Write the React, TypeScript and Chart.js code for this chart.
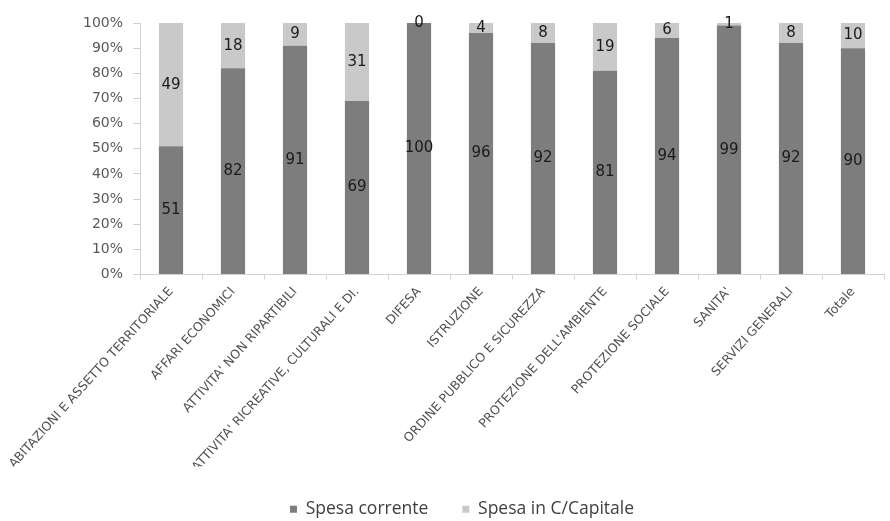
import React, { useEffect, useRef } from "react";
import { Chart, registerables } from "chart.js";

Chart.register(...registerables);

const categories = [
  "ABITAZIONI E ASSETTO TERRITORIALE",
  "AFFARI ECONOMICI",
  "ATTIVITA' NON RIPARTIBILI",
  "ATTIVITA' RICREATIVE, CULTURALI E DI.",
  "DIFESA",
  "ISTRUZIONE",
  "ORDINE PUBBLICO E SICUREZZA",
  "PROTEZIONE DELL'AMBIENTE",
  "PROTEZIONE SOCIALE",
  "SANITA'",
  "SERVIZI GENERALI",
  "Totale",
];
const spesaCorrente = [51, 82, 91, 69, 100, 96, 92, 81, 94, 99, 92, 90];
const spesaCapitale = [49, 18, 9, 31, 0, 4, 8, 19, 6, 1, 8, 10];
const seriesNames = ["Spesa corrente", "Spesa in C/Capitale"];

const valueLabels = {
  id: "valueLabels",
  afterDatasetsDraw(chart: any) {
    const ctx = chart.ctx;
    ctx.save();
    ctx.font = "15px 'DejaVu Sans'";
    ctx.fillStyle = "#1a1a1a";
    ctx.textAlign = "center";
    ctx.textBaseline = "middle";
    chart.data.datasets.forEach((ds: any, i: number) => {
      const meta = chart.getDatasetMeta(i);
      meta.data.forEach((el: any, j: number) => {
        const y = (el.y + el.base) / 2;
        ctx.fillText(String(ds.data[j]), el.x, y);
      });
    });
    ctx.restore();
  },
};

export default function App() {
  const ref = useRef<HTMLCanvasElement>(null);
  useEffect(() => {
    const chart = new Chart(ref.current!, {
      type: "bar",
      data: {
        labels: categories,
        datasets: [
          {
            label: seriesNames[0],
            data: spesaCorrente,
            backgroundColor: "#7d7d7d",
            barPercentage: 0.78,
            categoryPercentage: 0.5,
          },
          {
            label: seriesNames[1],
            data: spesaCapitale,
            backgroundColor: "#c9c9c9",
            barPercentage: 0.78,
            categoryPercentage: 0.5,
          },
        ],
      },
      options: {
        animation: false,
        responsive: true,
        maintainAspectRatio: false,
        layout: { padding: { top: 23, left: 40, right: 6, bottom: -7 } },
        plugins: {
          legend: {
            position: "bottom",
            labels: {
              boxWidth: 7,
              boxHeight: 7,
              padding: 34,
              color: "#404040",
              font: { family: "'Open Sans'", size: 17.5 },
            },
          },
          tooltip: { enabled: false },
        },
        scales: {
          x: {
            stacked: true,
            grid: {
              offset: true,
              drawOnChartArea: false,
              tickLength: 5,
              color: "#d0d0d0",
            },
            border: { color: "#d0d0d0" },
            ticks: {
              minRotation: 48,
              maxRotation: 48,
              autoSkip: false,
              color: "#505050",
              font: { family: "'DejaVu Sans'", size: 12.5 },
              padding: 5,
            },
            afterFit(scale: any) {
              scale.height = 192;
            },
          },
          y: {
            stacked: true,
            min: 0,
            max: 100,
            grid: {
              drawOnChartArea: false,
              tickLength: 7,
              color: "#d0d0d0",
            },
            border: { color: "#d0d0d0" },
            ticks: {
              stepSize: 10,
              color: "#595959",
              font: { family: "'DejaVu Sans'", size: 14 },
              padding: 10,
              callback: (v: any) => v + "%",
            },
            afterFit(scale: any) {
              scale.width = 100;
            },
          },
        },
      },
      plugins: [valueLabels],
    });
    return () => chart.destroy();
  }, []);
  return (
    <div style={{ position: "fixed", left: 0, top: 0, width: 890, height: 521, background: "#fff" }}>
      <canvas ref={ref} />
    </div>
  );
}
